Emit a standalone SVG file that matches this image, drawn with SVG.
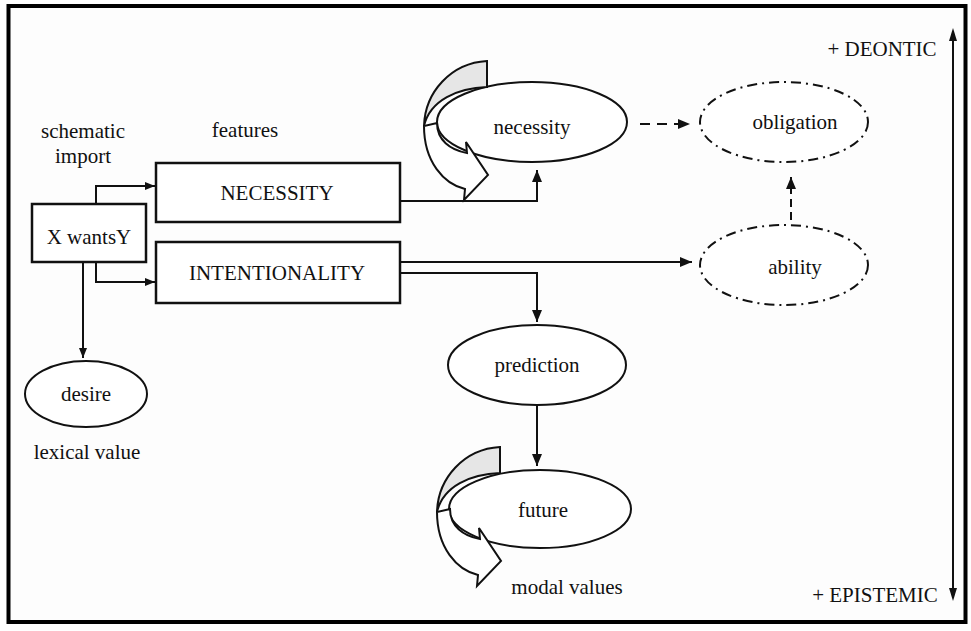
<svg xmlns="http://www.w3.org/2000/svg" width="971" height="631" viewBox="0 0 971 631" font-family="'Liberation Serif', 'Times New Roman', serif">
<style>
text{font-family:'Liberation Serif','Times New Roman',serif;font-size:21px;fill:#111;text-anchor:middle}
.box{fill:#fff;stroke:#111;stroke-width:2.5}
.ell{fill:#fff;stroke:#111;stroke-width:2}
.dd{fill:#fff;stroke:#111;stroke-width:2;stroke-dasharray:10 5 2 5}
.ln{fill:none;stroke:#111;stroke-width:2}
.cv{stroke:#111;stroke-width:2;stroke-linejoin:miter}
</style>
<defs>
<marker id="ah" viewBox="0 0 12 10" refX="12" refY="5" markerWidth="12" markerHeight="10" orient="auto" markerUnits="userSpaceOnUse"><path d="M0,0 L12,5 L0,10 Z" fill="#111"/></marker>
<marker id="as" viewBox="0 0 10 8" refX="10" refY="4" markerWidth="10" markerHeight="8" orient="auto" markerUnits="userSpaceOnUse"><path d="M0,0 L10,4 L0,8 Z" fill="#111"/></marker>
<g id="curl">
<path class="cv" fill="#e6e6e6" d="M487,61 C451,63 425,92 424,126 C430,100 458,88 487,87 Z"/>
<path class="cv" fill="#fff" d="M424,126 C424,162 444,184 465,189 L464,200 L488,175 L466,142 L467,153 C450,150 437,140 437,123 Z"/>
</g>
</defs>
<rect x="0" y="0" width="971" height="631" fill="#fff"/>
<rect x="8.5" y="6" width="957" height="616" fill="#fdfdfd" stroke="#000" stroke-width="4"/>

<g id="connectors">
<path class="ln" d="M96,204 V186 H155" marker-end="url(#as)"/>
<path class="ln" d="M96,262 V282 H155" marker-end="url(#as)"/>
<path class="ln" d="M83,262 V358" marker-end="url(#as)"/>
<path class="ln" d="M400,201 H537 V170" marker-end="url(#ah)"/>
<path class="ln" d="M400,262 H692" marker-end="url(#ah)"/>
<path class="ln" d="M400,273 H537 V322" marker-end="url(#ah)"/>
<path class="ln" d="M537,405 V466" marker-end="url(#ah)"/>
<path class="ln" d="M640,124 H690" stroke-dasharray="10 7" marker-end="url(#ah)"/>
<path class="ln" d="M791,220 V177" stroke-dasharray="8 5" marker-end="url(#ah)"/>
<path class="ln" d="M953,40 V592" stroke-width="1.8"/>
<path d="M953,28 L949,41 L957,41 Z" fill="#111"/>
<path d="M953,601 L949,588 L957,588 Z" fill="#111"/>
</g>

<g id="labels">
<text x="83" y="138">schematic</text>
<text x="83" y="163">import</text>
<text x="245" y="137">features</text>
<text x="87" y="459">lexical value</text>
<text x="567" y="594">modal values</text>
<text x="882" y="56">+ DEONTIC</text>
<text x="875" y="602">+ EPISTEMIC</text>
</g>

<g id="xwants">
<rect class="box" x="32" y="204" width="114" height="58"/>
<text x="89" y="244">X wantsY</text>
</g>
<g id="necessity-box">
<rect class="box" x="156" y="163" width="244" height="59"/>
<text x="277" y="200">NECESSITY</text>
</g>
<g id="intentionality-box">
<rect class="box" x="156" y="242" width="244" height="61"/>
<text x="277" y="280">INTENTIONALITY</text>
</g>
<g id="desire">
<ellipse class="ell" cx="86" cy="394" rx="61" ry="33"/>
<text x="86" y="401">desire</text>
</g>
<g id="necessity">
<ellipse class="ell" cx="532" cy="122" rx="95" ry="40"/>
<use href="#curl"/>
<text x="532" y="134">necessity</text>
</g>
<g id="obligation">
<ellipse class="dd" cx="784" cy="122" rx="84" ry="40"/>
<text x="795" y="129">obligation</text>
</g>
<g id="ability">
<ellipse class="dd" cx="784" cy="265" rx="84" ry="40"/>
<text x="795" y="274">ability</text>
</g>
<g id="prediction">
<ellipse class="ell" cx="537" cy="365" rx="89" ry="40"/>
<text x="537" y="372">prediction</text>
</g>
<g id="future">
<ellipse class="ell" cx="540" cy="509" rx="91" ry="39"/>
<use href="#curl" transform="translate(13,386)"/>
<text x="543" y="517">future</text>
</g>
</svg>
